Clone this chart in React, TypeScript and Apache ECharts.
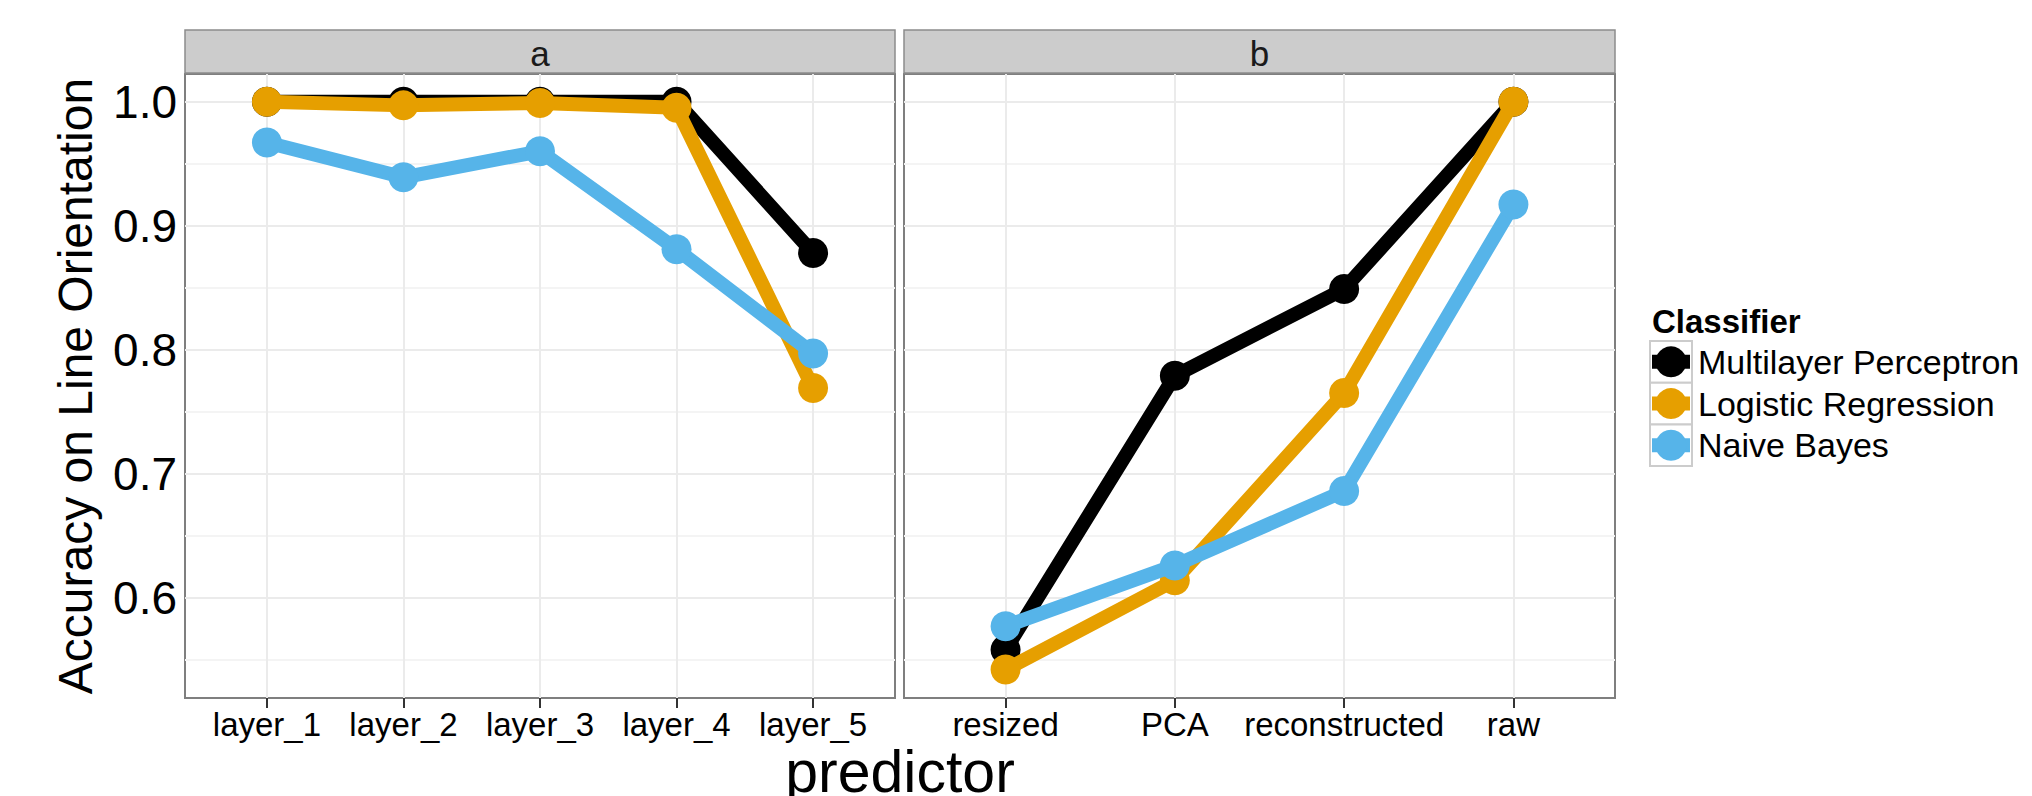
import React, { useEffect, useRef } from "react";
import * as echarts from "echarts";

const panelLabels = ["a", "b"];
const categoriesA = ["layer_1", "layer_2", "layer_3", "layer_4", "layer_5"];
const categoriesB = ["resized", "PCA", "reconstructed", "raw"];
const classifiers = ["Multilayer Perceptron", "Logistic Regression", "Naive Bayes"];
const colors = ["#000000", "#E69F00", "#56B4E9"];

const mlpA = [1.0, 1.0, 1.0, 1.0, 0.878];
const lrA = [1.0, 0.997, 0.999, 0.995, 0.769];
const nbA = [0.967, 0.939, 0.96, 0.881, 0.797];

const mlpB = [0.558, 0.779, 0.849, 1.0];
const lrB = [0.542, 0.614, 0.765, 1.0];
const nbB = [0.577, 0.626, 0.686, 0.917];

const yTicks = [0.6, 0.7, 0.8, 0.9, 1.0];
const yMinor = [0.55, 0.65, 0.75, 0.85, 0.95];
const yTitle = "Accuracy on Line Orientation";
const xTitle = "predictor";
const legendTitle = "Classifier";

const FONT = "'Liberation Sans', Arial, Helvetica, sans-serif";

export default function App() {
  const ref = useRef<HTMLDivElement>(null);

  useEffect(() => {
    if (!ref.current) return;
    const chart = echarts.init(ref.current, undefined, { renderer: "svg" });

    const panels = [
      { cats: categoriesA, values: [mlpA, lrA, nbA], left: 185, width: 710 },
      { cats: categoriesB, values: [mlpB, lrB, nbB], left: 904, width: 711 },
    ];
    const top = 74;
    const height = 624;
    const yMin = 0.5191;
    const yMax = 1.0223;

    const grids = panels.map((p) => ({
      left: p.left,
      top,
      width: p.width,
      height,
      show: true,
      backgroundColor: "#ffffff",
      borderColor: "#7F7F7F",
      borderWidth: 2,
      containLabel: false,
    }));

    const xAxes = panels.map((p, k) => ({
      type: "value",
      gridIndex: k,
      min: -0.6,
      max: p.cats.length - 1 + 0.6,
      axisLine: { show: false },
      splitLine: { show: false },
      axisTick: {
        show: true,
        customValues: p.cats.map((_, i) => i),
        length: 10,
        lineStyle: { color: "#333333", width: 2 },
      },
      axisLabel: {
        show: true,
        customValues: p.cats.map((_, i) => i),
        formatter: (v: number) => p.cats[Math.round(v)] ?? "",
        fontSize: 33,
        fontFamily: FONT,
        color: "#000000",
        margin: 10,
      },
    }));

    const yAxes = panels.map((p, k) => ({
      type: "value",
      gridIndex: k,
      min: yMin,
      max: yMax,
      axisLine: { show: false },
      splitLine: { show: false },
      axisTick: {
        show: k === 0,
        customValues: yTicks,
        length: 10,
        lineStyle: { color: "#333333", width: 2 },
      },
      axisLabel: {
        show: k === 0,
        customValues: yTicks,
        formatter: (v: number) => v.toFixed(1),
        fontSize: 46,
        fontFamily: FONT,
        color: "#000000",
        margin: 8,
      },
    }));

    const series: any[] = [];
    panels.forEach((p, k) => {
      series.push({
        type: "line",
        xAxisIndex: k,
        yAxisIndex: k,
        data: [],
        silent: true,
        z: 1,
        markLine: {
          silent: true,
          z: 1,
          symbol: ["none", "none"],
          label: { show: false },
          animation: false,
          data: [
            ...yMinor.map((v) => ({ yAxis: v, lineStyle: { color: "#F4F4F4", width: 2, type: "solid" } })),
            ...yTicks.map((v) => ({ yAxis: v, lineStyle: { color: "#EBEBEB", width: 2, type: "solid" } })),
            ...p.cats.map((_, i) => ({ xAxis: i, lineStyle: { color: "#EBEBEB", width: 2, type: "solid" } })),
          ],
        },
      });
      p.values.forEach((vals, j) => {
        series.push({
          type: "line",
          name: classifiers[j],
          xAxisIndex: k,
          yAxisIndex: k,
          data: vals.map((v, i) => [i, v]),
          symbol: "circle",
          symbolSize: 30,
          showSymbol: true,
          showAllSymbol: true,
          z: 3 + j,
          lineStyle: { color: colors[j], width: 14, cap: "butt", join: "round" },
          itemStyle: { color: colors[j] },
          emphasis: { disabled: true },
        });
      });
    });

    const graphics: any[] = [];
    panels.forEach((p, k) => {
      graphics.push({
        type: "rect",
        shape: { x: p.left, y: 30, width: p.width, height: 43 },
        style: { fill: "#CCCCCC", stroke: "#8C8C8C", lineWidth: 1.5 },
        z: 10,
      });
      graphics.push({
        type: "text",
        x: p.left + p.width / 2,
        y: 53,
        style: {
          text: panelLabels[k],
          fontSize: 35,
          fontFamily: FONT,
          fill: "#1A1A1A",
          textAlign: "center",
          textVerticalAlign: "middle",
        },
        z: 11,
      });
    });

    graphics.push({
      type: "text",
      x: 75,
      y: 386,
      rotation: Math.PI / 2,
      style: {
        text: yTitle,
        fontSize: 48,
        fontFamily: FONT,
        fill: "#000000",
        textAlign: "center",
        textVerticalAlign: "middle",
      },
    });
    graphics.push({
      type: "text",
      x: 900,
      y: 772,
      style: {
        text: xTitle,
        fontSize: 59,
        fontFamily: FONT,
        fill: "#000000",
        textAlign: "center",
        textVerticalAlign: "middle",
      },
    });

    graphics.push({
      type: "text",
      x: 1652,
      y: 321,
      style: {
        text: legendTitle,
        fontSize: 33,
        fontWeight: "bold",
        fontFamily: FONT,
        fill: "#000000",
        textAlign: "left",
        textVerticalAlign: "middle",
      },
    });
    const keyX = 1650;
    const keyY0 = 341;
    const keyH = 41.7;
    classifiers.forEach((name, i) => {
      const y = keyY0 + i * keyH;
      const cy = y + keyH / 2;
      graphics.push({
        type: "rect",
        shape: { x: keyX, y, width: 42, height: keyH },
        style: { fill: "#FFFFFF", stroke: "#CCCCCC", lineWidth: 2 },
        z: 20,
      });
      graphics.push({
        type: "line",
        shape: { x1: keyX + 2, y1: cy, x2: keyX + 40, y2: cy },
        style: { stroke: colors[i], lineWidth: 14 },
        z: 21,
      });
      graphics.push({
        type: "circle",
        shape: { cx: keyX + 21, cy, r: 15.5 },
        style: { fill: colors[i] },
        z: 22,
      });
      graphics.push({
        type: "text",
        x: 1698,
        y: cy,
        style: {
          text: name,
          fontSize: 34,
          fontFamily: FONT,
          fill: "#000000",
          textAlign: "left",
          textVerticalAlign: "middle",
        },
        z: 22,
      });
    });

    chart.setOption({
      animation: false,
      backgroundColor: "#ffffff",
      grid: grids,
      xAxis: xAxes,
      yAxis: yAxes,
      series,
      graphic: graphics,
    });

    return () => chart.dispose();
  }, []);

  return (
    <div
      ref={ref}
      style={{ position: "absolute", left: 0, top: 0, width: 2032, height: 796 }}
    />
  );
}
